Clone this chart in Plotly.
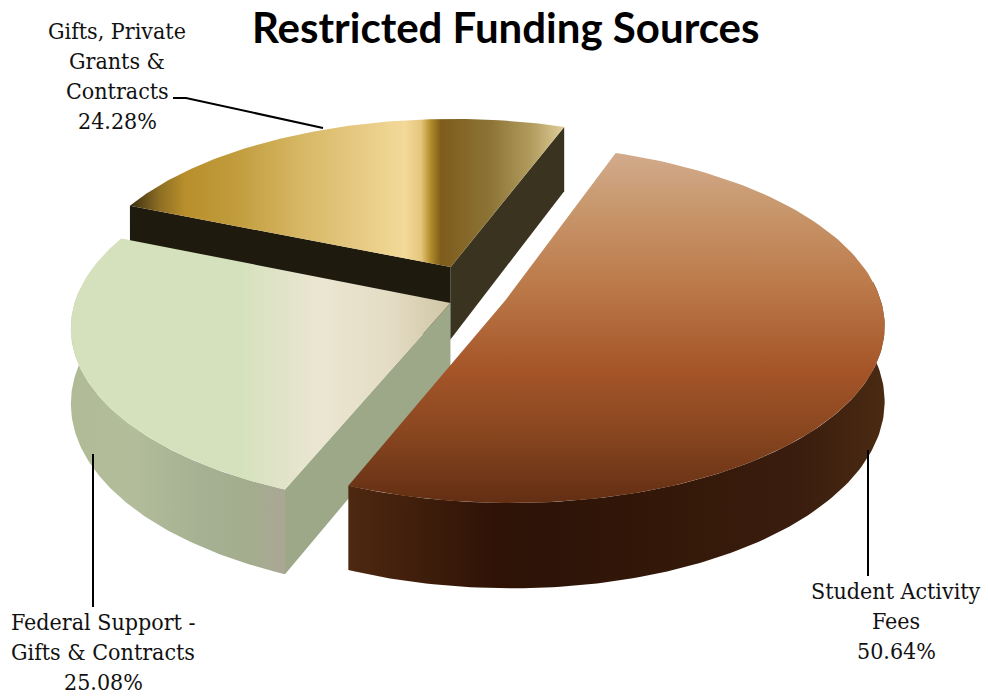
import numpy as np
import plotly.graph_objects as go

# Funding data, clockwise from the pie's start angle
sources = [["Student Activity", "Fees"], ["Federal Support -", "Gifts & Contracts"], ["Gifts, Private", "Grants &", "Contracts"]]
shares = [50.64, 25.08, 24.28]
start_angle = 70.0

# Explosion of each slice on the pie's ground plane (unit radius)
offsets = [(0.095, 0.0), (-0.052, -0.017), (-0.053, 0.192)]

# Camera model for the tilted, perspective view
CX, CY, AX, AY, THICK, PERSP = 470.0, 300.0, 375.0, 176.0, 74.0, 0.133


def project(x, y, depth=0.0):
    w = 1 + PERSP * np.asarray(y)
    return CX + AX * np.asarray(x) / w, CY - (AY * np.asarray(y) - THICK * depth) / w


def arc(a0, a1, off, depth=0.0, n=120):
    t = np.radians(np.linspace(a0, a1, n))
    return project(off[0] + np.cos(t), off[1] + np.sin(t), depth)


def scale(stops, lo, hi):
    return [[(p - lo) / (hi - lo), c] for p, c in stops]


def surface(xs, ys, stops=None, orient="horizontal", color=None):
    kw = {}
    if stops:
        lo, hi = stops[0][0], stops[-1][0]
        kw["fillgradient"] = dict(type=orient, colorscale=scale(stops, lo, hi), start=lo, stop=hi)
    else:
        kw["fillcolor"] = color
    return go.Scatter(x=list(xs), y=list(ys), mode="lines", fill="toself", line=dict(width=0),
                      hoverinfo="skip", showlegend=False, **kw)


# Slice boundaries (degrees, decreasing = clockwise)
edges = [start_angle]
for s in shares:
    edges.append(edges[-1] - s * 3.6)
student_span, federal_span, gifts_span = [(edges[i], edges[i + 1]) for i in range(3)]

gold_top = [(128, "#352a10"), (160, "#8f6f24"), (185, "#b98f2c"), (230, "#c09a3a"), (300, "#d6b764"),
            (405, "#f3d99a"), (421, "#e6c67c"), (431, "#b08a28"), (441, "#7e5c1c"), (490, "#8c7436"),
            (530, "#b09a5c"), (566, "#e2cf9c")]
green_top = [(72, "#d5e1bc"), (240, "#d5e1bc"), (280, "#e0e3c8"), (320, "#ebe6d2"), (390, "#e4dcc4"), (450, "#d0c6a6")]
green_wall = [(72, "#b0ba96"), (130, "#b3bd9b"), (200, "#a6b193"), (250, "#a3ad8e"), (288, "#aba695")]
brown_top = [(153, "#d2ab8d"), (200, "#c99a70"), (280, "#bd7c4c"), (370, "#a55528"), (430, "#8a4720"), (510, "#5f2c12")]
brown_wall = [(348, "#4e2810"), (500, "#2e1206"), (560, "#2e1408"), (700, "#351909"), (800, "#3a1d0e"), (885, "#4a2a12")]

fig = go.Figure()


def apex(off, depth=0.0):
    return project(off[0], off[1], depth)


def cut_face(off, angle, color):
    t = np.radians(angle)
    ox, oy = off[0] + np.cos(t), off[1] + np.sin(t)
    a0, a1 = apex(off), apex(off, 1)
    b0, b1 = project(ox, oy), project(ox, oy, 1)
    return surface([a0[0], b0[0], b1[0], a1[0], a0[0]], [a0[1], b0[1], b1[1], a1[1], a0[1]], color=color)


def wedge(a0, a1, off):
    ax_, ay_ = arc(a0, a1, off)
    px, py = apex(off)
    return np.r_[px, ax_, px], np.r_[py, ay_, py]


def wall(a0, a1, off):
    tx, ty = arc(a0, a1, off)
    bx, by = arc(a0, a1, off, 1)
    return np.r_[tx, bx[::-1], tx[0]], np.r_[ty, by[::-1], ty[0]]


# Painted back to front: gifts, federal, then student
off = offsets[2]
fig.add_trace(cut_face(off, gifts_span[1], "#3a3320"))
fig.add_trace(cut_face(off, gifts_span[0], "#1e1b0e"))
fig.add_trace(surface(*wedge(*gifts_span, off), stops=gold_top))

off = offsets[1]
fig.add_trace(cut_face(off, federal_span[0], "#9ca888"))
fig.add_trace(surface(*wall(federal_span[0] % 360, 176, off), stops=green_wall))
fig.add_trace(surface(*wedge(*federal_span, off), stops=green_top))

off = offsets[0]
fig.add_trace(surface(*wall(student_span[1], 6, off), stops=brown_wall))
fig.add_trace(surface(*wedge(*student_span, off), stops=brown_top, orient="vertical"))

# Leader lines from labels to slices
leaders = [([868, 868], [450, 576]), ([93, 93], [454, 607]), ([173, 186, 323], [98, 98, 128])]
for lx, ly in leaders:
    fig.add_trace(go.Scatter(x=lx, y=ly, mode="lines", line=dict(color="#000000", width=2),
                             hoverinfo="skip", showlegend=False))

LABEL_FONT = dict(family="DejaVu Serif Condensed", size=23, color="#111111")
label_top = [(896, 591), (103, 622), (117, 31)]
LINE_STEP = 30
for name, share, (lx, ly) in zip(sources, shares, label_top):
    for i, line in enumerate(name + [f"{share:.2f}%"]):
        fig.add_annotation(x=lx, y=ly + i * LINE_STEP, text=line, showarrow=False,
                           xanchor="center", yanchor="middle", font=LABEL_FONT)

fig.add_annotation(x=505, y=27, text="<b>Restricted Funding Sources</b>", showarrow=False,
                   xanchor="center", yanchor="middle",
                   font=dict(family="Lato", size=42, color="#000000"))

fig.update_layout(
    width=988, height=698, margin=dict(l=0, r=0, t=0, b=0),
    paper_bgcolor="#ffffff", plot_bgcolor="#ffffff",
    xaxis=dict(range=[0, 988], visible=False, fixedrange=True),
    yaxis=dict(range=[698, 0], visible=False, fixedrange=True),
)
fig.write_html("out.html")
